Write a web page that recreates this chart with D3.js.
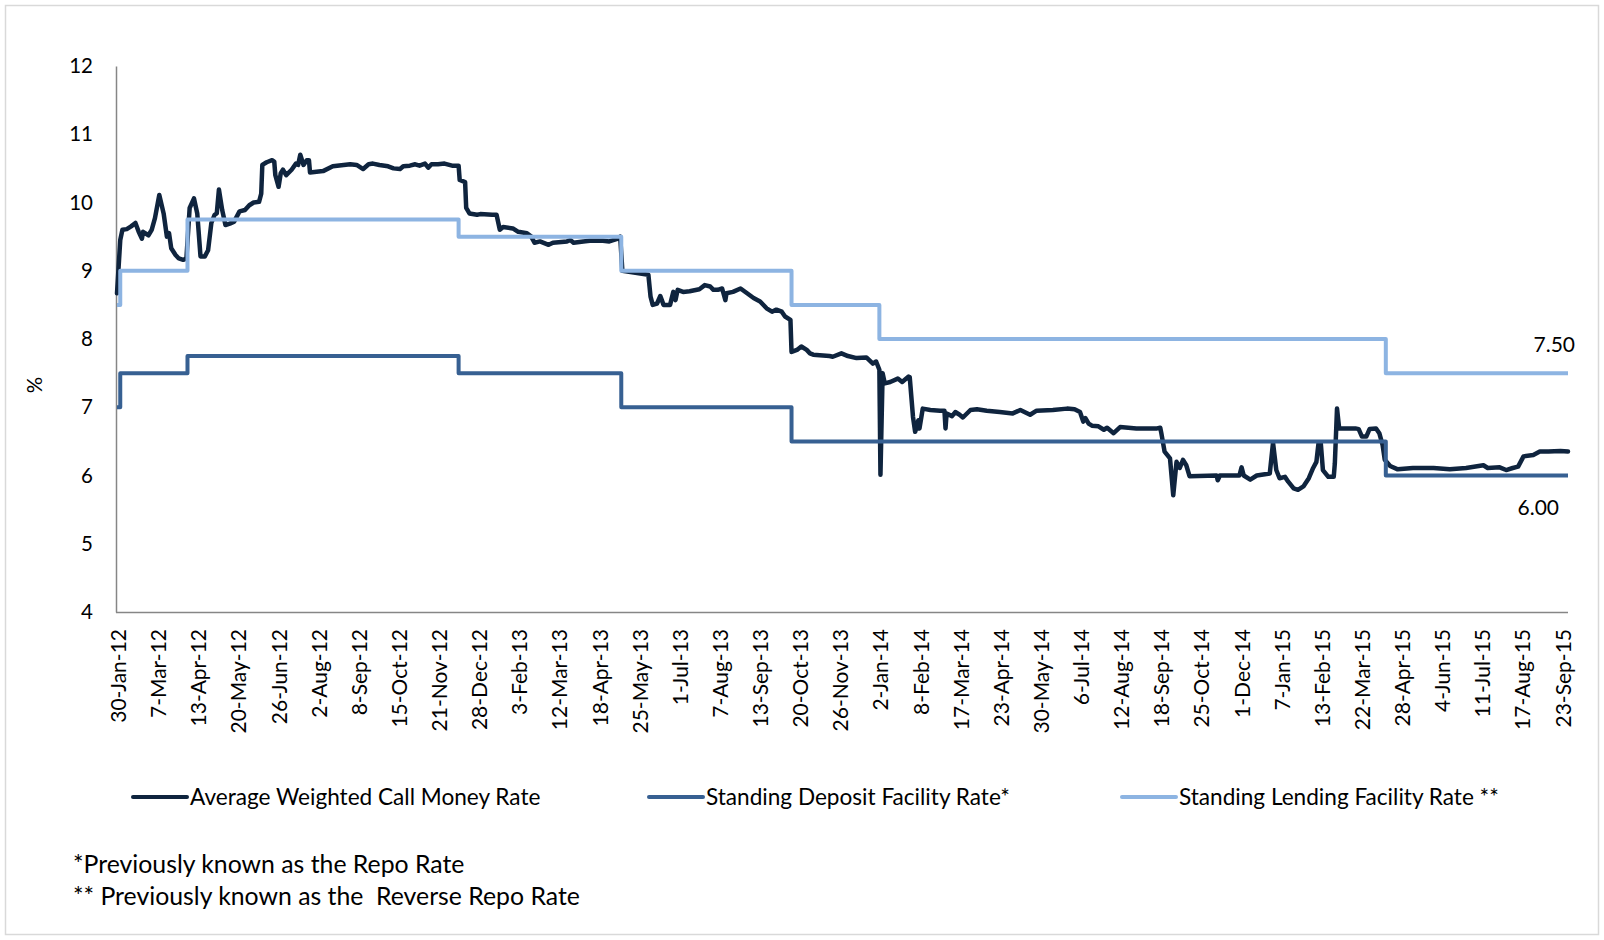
<!DOCTYPE html>
<html><head><meta charset="utf-8">
<script src="https://cdn.jsdelivr.net/npm/d3@7"></script>
<style>
html,body{margin:0;padding:0;background:#fff;}
svg{display:block;font-family:Lato,"Open Sans",sans-serif;}
</style></head><body>
<svg id="chart" width="1604" height="940"></svg>
<script>
// ---------- DATA ----------
const xTickLabels = ["30-Jan-12","7-Mar-12","13-Apr-12","20-May-12","26-Jun-12","2-Aug-12","8-Sep-12","15-Oct-12","21-Nov-12","28-Dec-12",
  "3-Feb-13","12-Mar-13","18-Apr-13","25-May-13","1-Jul-13","7-Aug-13","13-Sep-13","20-Oct-13","26-Nov-13","2-Jan-14",
  "8-Feb-14","17-Mar-14","23-Apr-14","30-May-14","6-Jul-14","12-Aug-14","18-Sep-14","25-Oct-14","1-Dec-14","7-Jan-15",
  "13-Feb-15","22-Mar-15","28-Apr-15","4-Jun-15","11-Jul-15","17-Aug-15","23-Sep-15"];
const yTicks = [4,5,6,7,8,9,10,11,12];
const xDomain = ["2012-01-30","2015-09-29"];

const seriesNames = ["Average Weighted Call Money Rate","Standing Deposit Facility Rate*","Standing Lending Facility Rate **"];
const footnotes = ["*Previously known as the Repo Rate","** Previously known as the\u00A0 Reverse Repo Rate"];
const yAxisTitle = "%";

const sdfrDates  = ["2012-01-30","2012-02-02","2012-04-04","2012-12-10","2013-05-09","2013-10-13","2015-04-14","2015-09-29"];
const sdfrValues = [7.00,7.50,7.75,7.50,7.00,6.50,6.00,6.00];
const slfrDates  = ["2012-01-30","2012-02-02","2012-04-04","2012-12-10","2013-05-09","2013-10-13","2014-01-02","2015-04-14","2015-09-29"];
const slfrValues = [8.50,9.00,9.75,9.50,9.00,8.50,8.00,7.50,7.50];

const callDates = [
"2012-01-30","2012-02-02","2012-02-04","2012-02-08","2012-02-12","2012-02-16","2012-02-19","2012-02-22","2012-02-23","2012-02-28",
"2012-03-02","2012-03-05","2012-03-09","2012-03-13","2012-03-16","2012-03-18","2012-03-20","2012-03-24","2012-03-27","2012-03-31",
"2012-04-03","2012-04-06","2012-04-10","2012-04-13","2012-04-16","2012-04-20","2012-04-23","2012-04-26","2012-04-29","2012-05-01",
"2012-05-03","2012-05-06","2012-05-09","2012-05-13","2012-05-17","2012-05-22","2012-05-27","2012-05-31","2012-06-04","2012-06-09",
"2012-06-11","2012-06-12","2012-06-16","2012-06-21","2012-06-23","2012-06-24","2012-06-27","2012-06-29","2012-07-01","2012-07-04",
"2012-07-09","2012-07-13","2012-07-15","2012-07-17","2012-07-20","2012-07-23","2012-07-25","2012-07-26","2012-08-07","2012-08-16",
"2012-08-26","2012-09-01","2012-09-07","2012-09-13","2012-09-18","2012-09-22","2012-09-28","2012-10-06","2012-10-11","2012-10-17",
"2012-10-20","2012-10-26","2012-10-31","2012-11-04","2012-11-09","2012-11-12","2012-11-15","2012-11-21","2012-11-27","2012-12-04",
"2012-12-10","2012-12-11","2012-12-16","2012-12-17","2012-12-20","2012-12-27","2012-12-30","2013-01-10","2013-01-14","2013-01-17",
"2013-01-20","2013-01-29","2013-02-03","2013-02-11","2013-02-15","2013-02-18","2013-02-23","2013-03-03","2013-03-07","2013-03-20",
"2013-03-23","2013-03-26","2013-04-04","2013-04-10","2013-04-22","2013-04-28","2013-05-06","2013-05-08","2013-05-10","2013-06-03",
"2013-06-05","2013-06-07","2013-06-11","2013-06-14","2013-06-17","2013-06-23","2013-06-26","2013-06-28","2013-06-30","2013-07-05",
"2013-07-11","2013-07-20","2013-07-25","2013-07-30","2013-08-02","2013-08-06","2013-08-10","2013-08-13","2013-08-14","2013-08-20",
"2013-08-27","2013-09-02","2013-09-08","2013-09-14","2013-09-20","2013-09-25","2013-09-29","2013-10-04","2013-10-07","2013-10-12",
"2013-10-13","2013-10-18","2013-10-22","2013-10-27","2013-10-30","2013-11-02","2013-11-17","2013-11-20","2013-11-28","2013-12-04",
"2013-12-12","2013-12-21","2013-12-27","2013-12-30","2014-01-02","2014-01-03","2014-01-05","2014-01-07","2014-01-12","2014-01-19",
"2014-01-23","2014-01-29","2014-01-30","2014-02-02","2014-02-04","2014-02-07","2014-02-08","2014-02-11","2014-02-18","2014-02-27",
"2014-03-03","2014-03-04","2014-03-05","2014-03-10","2014-03-13","2014-03-17","2014-03-20","2014-03-27","2014-04-02","2014-04-11",
"2014-04-23","2014-05-05","2014-05-12","2014-05-21","2014-05-27","2014-06-11","2014-06-24","2014-07-01","2014-07-06","2014-07-09",
"2014-07-11","2014-07-14","2014-07-17","2014-07-23","2014-07-28","2014-07-31","2014-08-06","2014-08-12","2014-08-27","2014-09-15",
"2014-09-18","2014-09-19","2014-09-22","2014-09-27","2014-09-30","2014-10-03","2014-10-06","2014-10-09","2014-10-12","2014-10-15",
"2014-11-09","2014-11-10","2014-11-12","2014-11-30","2014-12-02","2014-12-04","2014-12-10","2014-12-16","2014-12-28","2014-12-31",
"2015-01-03","2015-01-06","2015-01-11","2015-01-14","2015-01-19","2015-01-23","2015-01-28","2015-02-02","2015-02-06","2015-02-09",
"2015-02-11","2015-02-13","2015-02-15","2015-02-20","2015-02-25","2015-02-26","2015-02-28","2015-03-02","2015-03-17","2015-03-20",
"2015-03-23","2015-03-27","2015-03-30","2015-04-05","2015-04-08","2015-04-11","2015-04-13","2015-04-18","2015-04-25","2015-05-09",
"2015-05-28","2015-06-12","2015-06-27","2015-07-13","2015-07-17","2015-07-28","2015-08-03","2015-08-09","2015-08-14","2015-08-19",
"2015-08-28","2015-09-03","2015-09-11","2015-09-22","2015-09-29"];
const callRates = [
8.67,9.45,9.60,9.61,9.65,9.70,9.57,9.47,9.57,9.52,
9.60,9.77,10.11,9.84,9.50,9.55,9.33,9.23,9.18,9.16,
9.18,9.92,10.06,9.84,9.21,9.21,9.30,9.70,9.82,9.84,
10.19,9.89,9.67,9.69,9.72,9.87,9.89,9.96,10.00,10.01,
10.13,10.55,10.59,10.62,10.60,10.40,10.23,10.43,10.48,10.40,
10.48,10.57,10.55,10.70,10.55,10.62,10.62,10.44,10.46,10.53,
10.55,10.56,10.55,10.49,10.56,10.57,10.55,10.53,10.50,10.49,
10.53,10.54,10.56,10.54,10.57,10.51,10.56,10.56,10.57,10.54,
10.54,10.33,10.30,9.92,9.84,9.82,9.83,9.82,9.82,9.60,
9.64,9.62,9.57,9.55,9.50,9.41,9.43,9.38,9.41,9.43,
9.45,9.41,9.43,9.44,9.44,9.43,9.47,9.50,9.00,8.94,
8.62,8.50,8.52,8.63,8.50,8.50,8.69,8.57,8.72,8.69,
8.70,8.73,8.79,8.77,8.72,8.72,8.74,8.57,8.67,8.69,
8.74,8.67,8.60,8.55,8.45,8.40,8.43,8.40,8.33,8.28,
7.81,7.84,7.89,7.84,7.79,7.77,7.75,7.74,7.79,7.75,
7.72,7.73,7.64,7.67,7.55,6.01,7.50,7.35,7.37,7.42,
7.37,7.45,7.44,6.86,6.64,6.81,6.69,6.98,6.96,6.95,
6.95,6.69,6.91,6.87,6.93,6.89,6.85,6.96,6.97,6.95,
6.93,6.91,6.96,6.89,6.95,6.96,6.98,6.97,6.93,6.79,
6.84,6.76,6.73,6.72,6.67,6.70,6.62,6.71,6.69,6.69,
6.70,6.62,6.35,6.25,5.71,6.20,6.11,6.23,6.15,5.99,
6.00,5.93,6.00,6.00,6.12,6.00,5.94,6.00,6.03,6.48,
6.08,5.96,5.98,5.91,5.81,5.79,5.84,5.96,6.11,6.20,
6.48,6.48,6.08,5.98,5.98,6.18,6.98,6.69,6.69,6.68,
6.57,6.57,6.68,6.69,6.62,6.45,6.23,6.14,6.09,6.11,
6.11,6.09,6.11,6.15,6.11,6.12,6.08,6.11,6.13,6.28,
6.30,6.35,6.35,6.36,6.35];

const colors = ["#0F243E","#376092","#8DB4E2"];

// ---------- CHART ----------
const parse = d3.timeParse("%Y-%m-%d");
const parseTick = d3.timeParse("%d-%b-%y");
const fmtTick = d3.timeFormat("%-d-%b-%y");

const svg = d3.select("#chart");
svg.append("rect").attr("x",5.5).attr("y",5.5).attr("width",1593).attr("height",929)
  .attr("fill","#fff").attr("stroke","#d9d9d9").attr("stroke-width",1.5);

const x = d3.scaleTime().domain(xDomain.map(parse)).range([117,1568]);
const y = d3.scaleLinear().domain([d3.min(yTicks), d3.max(yTicks)]).range([612,66]);

// axes
const xAxis = svg.append("g").attr("transform","translate(0,612)")
  .call(d3.axisBottom(x).tickValues(xTickLabels.map(parseTick)).tickFormat(fmtTick).tickSize(0).tickSizeOuter(0));
xAxis.select(".domain").attr("stroke","#868686").attr("stroke-width",1.5).attr("d","M116,0.5H1568");
xAxis.selectAll(".tick text")
  .attr("transform","rotate(-90)").attr("x",-17).attr("y",1).attr("dy","0.36em")
  .style("text-anchor","end").style("font-size","21px").style("font-family","Lato,'Open Sans',sans-serif").attr("fill","#000");

const yAxis = svg.append("g").attr("transform","translate(116,0)")
  .call(d3.axisLeft(y).tickValues(yTicks).tickSize(0).tickSizeOuter(0).tickPadding(23));
yAxis.select(".domain").attr("stroke","#868686").attr("stroke-width",1.5);
yAxis.selectAll(".tick text").style("font-size","20.5px").style("font-family","Lato,'Open Sans',sans-serif").attr("fill","#000");

svg.append("text").attr("transform","translate(42,385) rotate(-90)")
  .attr("text-anchor","middle").style("font-size","20.5px").attr("fill","#000").text(yAxisTitle);

// lines
const callData = callDates.map((d,i)=>({date:parse(d), v:callRates[i]}));
const sdfrData = sdfrDates.map((d,i)=>({date:parse(d), v:sdfrValues[i]}));
const slfrData = slfrDates.map((d,i)=>({date:parse(d), v:slfrValues[i]}));

const lineLin = d3.line().x(d=>x(d.date)).y(d=>y(d.v)).curve(d3.curveLinear);
const lineStep = d3.line().x(d=>x(d.date)).y(d=>y(d.v)).curve(d3.curveStepAfter);

svg.append("path").datum(callData).attr("d",lineLin).attr("fill","none")
  .attr("stroke",colors[0]).attr("stroke-width",4.5).attr("stroke-linejoin","round").attr("stroke-linecap","round");
svg.append("path").datum(sdfrData).attr("d",lineStep).attr("fill","none")
  .attr("stroke",colors[1]).attr("stroke-width",4).attr("stroke-linejoin","round");
svg.append("path").datum(slfrData).attr("d",lineStep).attr("fill","none")
  .attr("stroke",colors[2]).attr("stroke-width",4).attr("stroke-linejoin","round");

// end labels
const lastS = sdfrData[sdfrData.length-1], lastL = slfrData[slfrData.length-1];
svg.append("text").attr("x",x(lastL.date)+7).attr("y",y(lastL.v)-21).attr("text-anchor","end")
  .style("font-size","21px").attr("fill","#000").text(d3.format(".2f")(lastL.v));
svg.append("text").attr("x",x(lastS.date)-9).attr("y",y(lastS.v)+39).attr("text-anchor","end")
  .style("font-size","21px").attr("fill","#000").text(d3.format(".2f")(lastS.v));

// legend
const legendX = [133,649,1122];
seriesNames.forEach((n,i)=>{
  const g = svg.append("g").attr("transform",`translate(${legendX[i]},797)`);
  g.append("line").attr("x1",0).attr("x2",54).attr("y1",0).attr("y2",0)
    .attr("stroke",colors[i]).attr("stroke-width",4).attr("stroke-linecap","round");
  g.append("text").attr("x",57).attr("y",0).attr("dy","0.35em").style("font-size","22.6px").attr("fill","#000").text(n);
});

// footnotes
footnotes.forEach((t,i)=>{
  svg.append("text").attr("x",73).attr("y",873+i*32).style("font-size","24.8px").attr("fill","#000")
    .attr("xml:space","preserve").style("white-space","pre").text(t);
});
</script></body></html>
